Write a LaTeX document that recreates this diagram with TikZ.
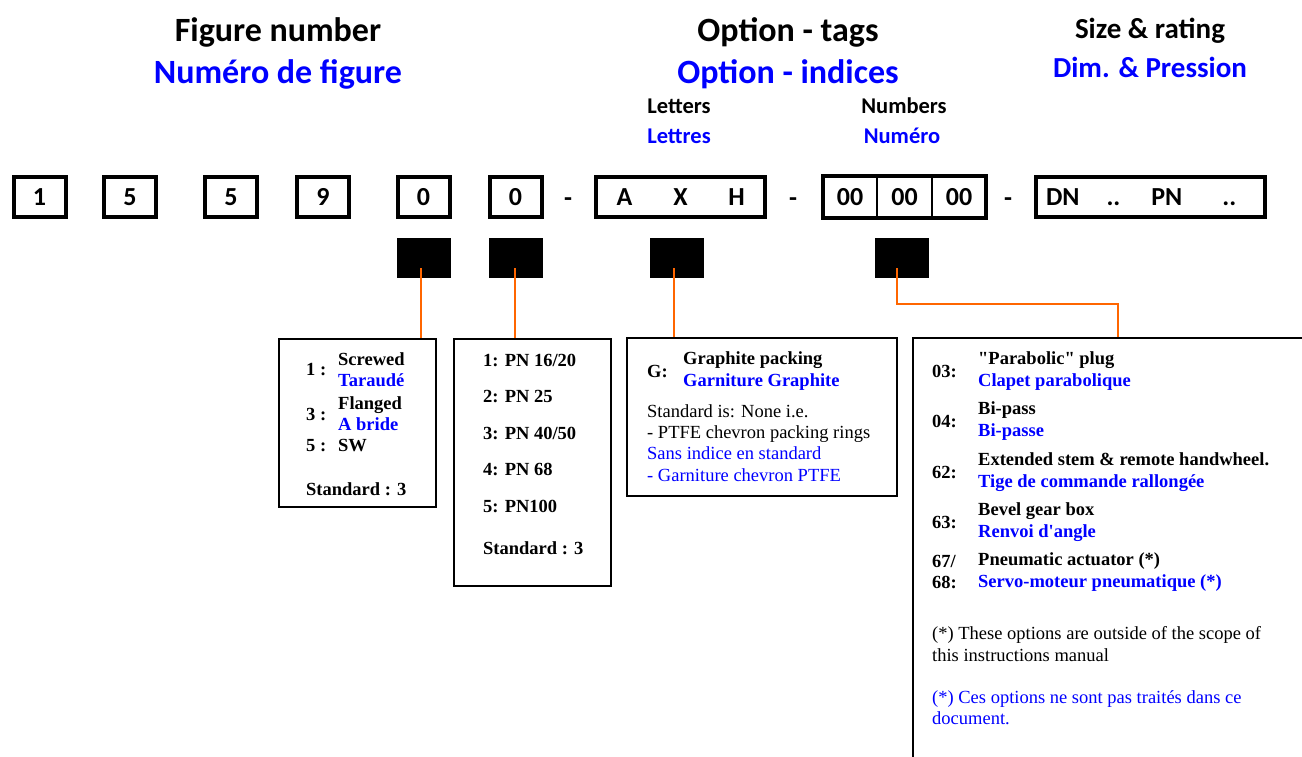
\documentclass[tikz,border=0pt]{standalone}
\usepackage{fontspec}
\setmainfont{Liberation Serif}[Ligatures=TeXOff]
\newfontfamily\calib{Carlito}
\usetikzlibrary{positioning, fit}
\definecolor{txtblue}{RGB}{0,0,255}
\definecolor{lead}{RGB}{255,102,0}

\begin{document}
\begin{tikzpicture}[x=1pt, y=-1pt,
    head/.style={font=\calib\bfseries\fontsize{34}{36}\selectfont, inner sep=0pt, anchor=base},
    subhead/.style={font=\calib\bfseries\fontsize{29}{31}\selectfont, inner sep=0pt, anchor=base},
    colhead/.style={font=\calib\bfseries\fontsize{22.5}{24}\selectfont, inner sep=0pt, anchor=base},
    digit/.style={draw, line width=4pt, minimum width=52pt, minimum height=40pt, inner sep=0pt, font=\calib\bfseries\fontsize{26}{28}\selectfont},
    cell/.style={draw, line width=1.2pt, minimum width=53.3pt, minimum height=40pt, inner sep=0pt, font=\calib\bfseries\fontsize{26}{28}\selectfont},
    hyph/.style={inner sep=0pt, font=\calib\bfseries\fontsize{26}{28}\selectfont},
    tag/.style={fill=black, minimum width=54pt, minimum height=40pt, inner sep=0pt},
    infobox/.style={draw, line width=2pt, anchor=north west, inner sep=0pt},
    entry/.style={font=\bfseries\fontsize{18.5}{21.3}\selectfont, align=left, anchor=west, inner sep=0pt},
    note/.style={font=\fontsize{18.5}{21.3}\selectfont, align=left, anchor=west, inner sep=0pt},
    link/.style={draw=lead, line width=2pt}
]
\clip (0,0) rectangle (1302,756);

% headings
\node[head] (fig) at (278,41) {Figure number};
\node[head, text=txtblue] (figfr) at (278,83) {Numéro de figure};
\node[head] (opt) at (788,41) {Option - tags};
\node[head, text=txtblue] (optfr) at (788,83) {Option - indices};
\node[subhead] (size) at (1150,38) {Size \& rating};
\node[subhead, text=txtblue] (sizefr) at (1150,77) {Dim. \& Pression};
\node[colhead] (let) at (679,113) {Letters};
\node[colhead, text=txtblue] (letfr) at (679,143) {Lettres};
\node[colhead] (num) at (904,113) {Numbers};
\node[colhead, text=txtblue] (numfr) at (902,143) {Numéro};

% code row
\node[digit] (d1) at (39.5,197) {1};
\node[digit] (d2) at (130,197) {5};
\node[digit] (d3) at (231,197) {5};
\node[digit] (d4) at (323,197) {9};
\node[digit] (d5) at (423.5,197) {0};
\node[digit] (d6) at (515.5,197) {0};
\node[hyph] (m1) at (568,202) {-};
\node[digit, minimum width=169pt] (letters) at (680.5,197)
    {\makebox[56pt]{A}\makebox[56pt]{X}\makebox[56pt]{H}};
\node[hyph] (m2) at (793,202) {-};
\node[cell] (n1) at (850,197) {00};
\node[cell, right=0pt of n1] (n2) {00};
\node[cell, right=0pt of n2] (n3) {00};
\node[draw, line width=4pt, inner sep=0pt, fit=(n1)(n3)] (numbers) {};
\node[hyph] (m3) at (1008,202) {-};
\node[digit, minimum width=229pt, text width=209pt, align=left] (rating) at (1150.5,197)
    {DN\hspace{27pt}..\hspace{31pt}PN\hspace{40pt}..};

% tags
\node[tag] (sqa) at (424,258) {};
\node[tag] (sqb) at (516,258) {};
\node[tag] (sqc) at (677,258) {};
\node[tag] (sqd) at (901.5,258) {};

% option boxes
\node[infobox, minimum width=157pt, minimum height=168pt] (boxa) at (278,338) {};
\node[entry] (ka1) at (306,370) {1 :};
\node[entry] (ta1) at (338,370) {Screwed\\\textcolor{txtblue}{Taraudé}};
\node[entry] (ka3) at (306,414) {3 :};
\node[entry] (ta3) at (338,414) {Flanged\\\textcolor{txtblue}{A bride}};
\node[entry] (ka5) at (306,446) {5 :};
\node[entry] (ta5) at (338,446) {SW};
\node[entry] (sta) at (306,489) {Standard : 3};

\node[infobox, minimum width=157pt, minimum height=247pt] (boxb) at (453,338) {};
\node[entry] (pn1) at (483,360) {1: PN 16/20};
\node[entry] (pn2) at (483,396) {2: PN 25};
\node[entry] (pn3) at (483,433) {3: PN 40/50};
\node[entry] (pn4) at (483,469) {4: PN 68};
\node[entry] (pn5) at (483,506) {5: PN100};
\node[entry] (stb) at (483,548) {Standard : 3};

\node[infobox, minimum width=270pt, minimum height=158pt] (boxc) at (626,337) {};
\node[entry] (kg) at (647,371) {G:};
\node[entry] (tg) at (683,371) {Graphite packing\\\textcolor{txtblue}{Garniture Graphite}};
\node[note] (stc) at (647,443) {Standard is: None i.e.\\- PTFE chevron packing rings\\
    \textcolor{txtblue}{Sans indice en standard}\\\textcolor{txtblue}{- Garniture chevron PTFE}};

\node[infobox, minimum width=420pt, minimum height=440pt] (boxd) at (912,337) {};
\node[entry] (k03) at (932,371) {03:};
\node[entry] (t03) at (978,371) {"Parabolic" plug\\\textcolor{txtblue}{Clapet parabolique}};
\node[entry] (k04) at (932,421) {04:};
\node[entry] (t04) at (978,421) {Bi-pass\\\textcolor{txtblue}{Bi-passe}};
\node[entry] (k62) at (932,472) {62:};
\node[entry] (t62) at (978,472) {Extended stem \& remote handwheel.\\\textcolor{txtblue}{Tige de commande rallongée}};
\node[entry] (k63) at (932,522) {63:};
\node[entry] (t63) at (978,522) {Bevel gear box\\\textcolor{txtblue}{Renvoi d'angle}};
\node[entry] (k67) at (932,572) {67/\\68:};
\node[entry] (t67) at (978,572) {Pneumatic actuator (*)\\\textcolor{txtblue}{Servo-moteur pneumatique (*)}};
\node[note] (fn) at (932,644) {(*) These options are outside of the scope of\\this instructions manual};
\node[note, text=txtblue] (fnfr) at (932,708) {(*) Ces options ne sont pas traités dans ce\\document.};

% leaders
\coordinate (bend) at (1118,304);
\draw[link] ([xshift=-3pt, yshift=10pt]sqa.south) -- ([xshift=-3pt]sqa.south |- boxa.north);
\draw[link] ([xshift=-1pt, yshift=10pt]sqb.south) -- ([xshift=-1pt]sqb.south |- boxb.north);
\draw[link] ([xshift=-3pt, yshift=10pt]sqc.south) -- ([xshift=-3pt]sqc.south |- boxc.north);
\draw[link] ([xshift=-5pt, yshift=10pt]sqd.south) |- (bend) -- (bend |- boxd.north);
\end{tikzpicture}
\end{document}
